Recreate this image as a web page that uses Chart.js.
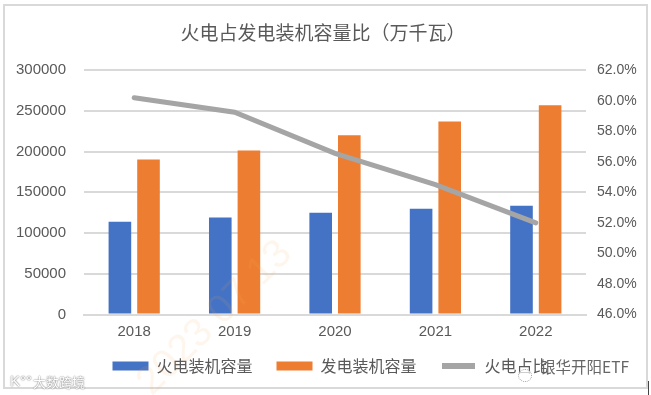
<!DOCTYPE html>
<html><head><meta charset="utf-8">
<style>
html,body{margin:0;padding:0;background:#fff;width:651px;height:395px;overflow:hidden}
#c{position:absolute;left:0;top:0}
.o{position:absolute;white-space:nowrap;font-family:"Noto Sans CJK SC","Noto Sans",sans-serif}
#frame{left:3px;top:4px;width:641px;height:381px;border:2px solid #d9d9d9}
</style>
<script src="https://cdn.jsdelivr.net/npm/chart.js@4/dist/chart.umd.min.js"></script>
</head><body>
<canvas id="c" width="651" height="395"></canvas>
<div class="o" id="frame"></div>
<div class="o" style="left:113px;top:294px;font-size:40px;color:rgba(245,170,90,.11);transform:rotate(-45deg);font-family:'Liberation Sans'">2023 07 13</div>
<div class="o" style="left:518px;top:369px;width:12px;height:11px;border:1px dotted #999;border-radius:50%;background:rgba(255,255,255,.7)"></div>
<div class="o" style="left:540px;top:356px;font-size:15.5px;color:#666;line-height:20px">银华开阳ETF</div>
<div class="o" style="left:10px;top:372px;font-size:15px;color:#fff;text-shadow:0 0 1.5px #888,0 0 1.5px #888;line-height:18px;font-family:'Liberation Sans'">K°°</div>
<div class="o" style="left:33px;top:373px;font-size:13px;color:#fff;text-shadow:0 0 1.5px #888,0 0 1.5px #888;line-height:18px">大数跨境</div>
<div class="o" style="left:648px;top:381px;width:1px;height:14px;background:#444"></div>
<script>
const categories = ['2018','2019','2020','2021','2022'];
const thermalCapacity = [114000,119000,125000,130000,133500];
const totalCapacity = [190300,201400,220000,237000,257000];
const thermalShare = [60.2,59.25,56.55,54.5,52.0];
const seriesNames = ['火电装机容量','发电装机容量','火电占比'];
const titleText = '火电占发电装机容量比（万千瓦）';
const font = "'Liberation Sans'";
const cjk = "'Noto Sans CJK SC'";
const nudge = {id:'nudge',afterLayout(c){
  c.legend.left += 5; c.legend.right += 5;
  c.titleBlock.left -= 2.5; c.titleBlock.right -= 2.5;
}};
new Chart(document.getElementById('c'),{
  plugins:[nudge],
  data:{labels:categories,datasets:[
    {type:'bar',label:seriesNames[0],data:thermalCapacity,backgroundColor:'#4472c4',yAxisID:'y',order:2,categoryPercentage:.57,barPercentage:.79},
    {type:'bar',label:seriesNames[1],data:totalCapacity,backgroundColor:'#ed7d31',yAxisID:'y',order:2,categoryPercentage:.57,barPercentage:.79},
    {type:'line',label:seriesNames[2],data:thermalShare,borderColor:'#a5a5a5',backgroundColor:'#a5a5a5',borderWidth:5,pointRadius:0,tension:0,borderCapStyle:'round',yAxisID:'y2',order:1}
  ]},
  options:{responsive:false,animation:false,
    layout:{padding:{left:0,right:0,top:0,bottom:11}},
    plugins:{
      title:{display:true,text:titleText,color:'#595959',font:{family:cjk,size:19,weight:'normal'},padding:{top:21,bottom:26.4}},
      tooltip:{enabled:false},
      legend:{position:'bottom',labels:{color:'#595959',font:{family:cjk,size:16},boxWidth:36,boxHeight:9,padding:24,
        sort:(a,b)=>a.datasetIndex-b.datasetIndex,
        generateLabels(chart){
          const items = Chart.defaults.plugins.legend.labels.generateLabels(chart);
          items.forEach(it=>{ if(it.datasetIndex===2){ it.strokeStyle='#fff'; it.lineWidth=3; } });
          return items;
        }}}
    },
    scales:{
      x:{grid:{display:false},border:{color:'#d9d9d9',width:2},ticks:{color:'#595959',font:{family:font,size:15},padding:0},afterFit(s){s.height=19.5; s._computeLabelArea=()=>undefined;}},
      y:{position:'left',min:0,max:300000,ticks:{stepSize:50000,color:'#595959',font:{family:font,size:15},padding:18,callback:v=>String(v)},grid:{color:'#d9d9d9',lineWidth:2,drawTicks:false},border:{display:false},afterFit(s){s.width=84}},
      y2:{position:'right',min:46,max:62,ticks:{stepSize:2,color:'#595959',font:{family:font,size:14},padding:3,callback:v=>v.toFixed(1)+'%'},grid:{display:false},border:{display:false},afterFit(s){s.width=65}}
    }
  }
});
</script>
</body></html>
